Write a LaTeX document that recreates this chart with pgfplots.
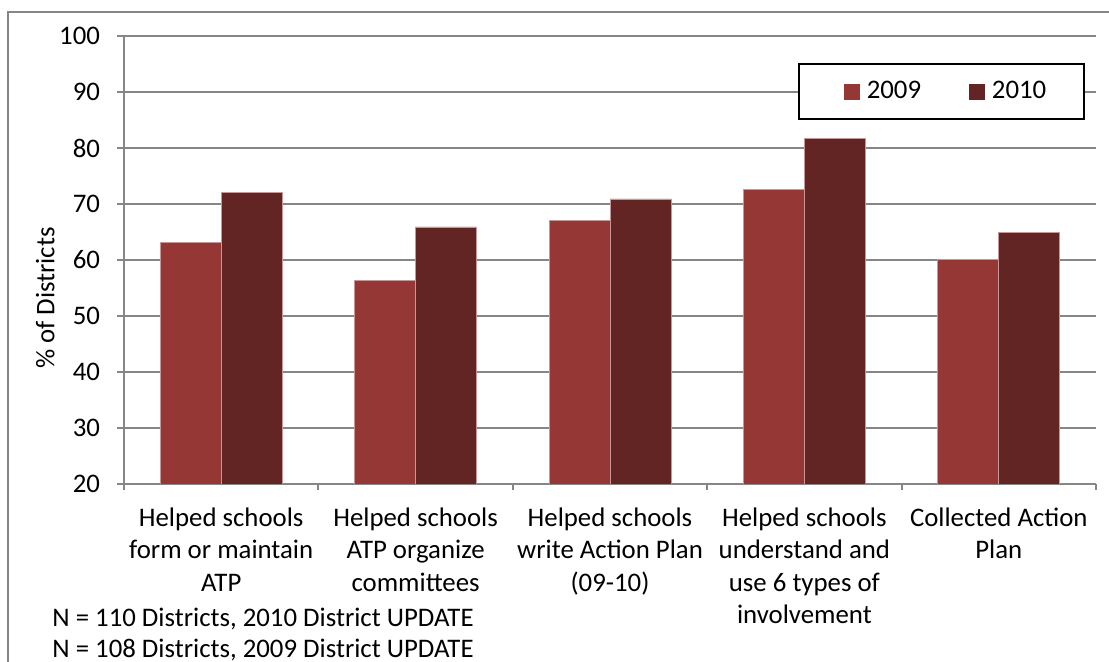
\documentclass[border=0pt]{standalone}
\usepackage{fontspec}
\setmainfont{Carlito}
\usepackage{pgfplots}
\pgfplotsset{compat=1.18}
\definecolor{c2009}{HTML}{953735}
\definecolor{c2010}{HTML}{632523}
\definecolor{gridgray}{HTML}{868686}
\definecolor{edgec}{HTML}{C89696}
\newcommand{\chartfont}{\fontsize{13.4pt}{16.25pt}\selectfont}
\begin{document}
\begin{tikzpicture}[x=0.5pt,y=0.5pt,font=\chartfont]
\useasboundingbox (0,0) rectangle (1109,662);
\draw[gridgray, line width=0.75pt] (8,-40) -- (8,650) -- (1160,650);
\begin{axis}[
  at={(62pt,89pt)}, anchor=south west,
  width=486pt, height=224pt, scale only axis,
  xmin=-0.5, xmax=4.5, ymin=20, ymax=100,
  ybar=0pt, bar width=0.3138,
  xtick={0,1,2,3,4},
  xticklabels={{Helped schools\\form or maintain\\ATP},{Helped schools\\ATP organize\\committees},{Helped schools\\write Action Plan\\(09-10)},{Helped schools\\understand and\\use 6 types of\\involvement},{Collected Action\\Plan}},
  xticklabel style={align=center, font=\chartfont, yshift=-4.7pt},
  minor xtick={-0.5,0.5,1.5,2.5,3.5,4.5},
  major x tick style={draw=none},
  ytick={20,30,...,100},
  yticklabel style={font=\chartfont, xshift=-5pt},
  /pgf/number format/assume math mode=true,
  ymajorgrids, grid style={gridgray, line width=1pt},
  axis x line*=bottom, axis y line*=left,
  axis line style={gridgray, line width=1pt, -},
  tick style={gridgray, line width=1pt},
  tick align=outside,
  major tick length=3.5pt, minor tick length=3pt,
  ylabel={\% of Districts},
  ylabel style={at={(axis description cs:-0.081,0.415)}, anchor=center, font=\chartfont},
  legend columns=2,
  legend style={at={(axis description cs:0.6934,0.9397)}, anchor=north west,
    draw=black, line width=1pt, fill=white,
    inner xsep=19pt, inner ysep=8.7pt,
    nodes={inner sep=0pt, anchor=west},
    font=\chartfont,
    /tikz/every odd column/.append style={column sep=3.5pt},
    /tikz/every even column/.append style={column sep=24pt}},
]
\addplot[fill=c2009, draw=edgec, line width=0.4pt,
  legend image code/.code={\path (-3.5pt,0pt); \fill[c2009] (0pt,-3.75pt) rectangle (7.5pt,3.75pt);}]
  coordinates {(0,63.1) (1,56.3) (2,67.1) (3,72.6) (4,60.1)};
\addplot[fill=c2010, draw=edgec, line width=0.4pt,
  legend image code/.code={\fill[c2010] (0pt,-3.75pt) rectangle (7.5pt,3.75pt);}]
  coordinates {(0,72.1) (1,65.9) (2,70.9) (3,81.7) (4,64.9)};
\legend{2009,2010}
\end{axis}
\node[anchor=base west, inner sep=0pt] at (52,35) {N = 110 Districts, 2010 District UPDATE};
\node[anchor=base west, inner sep=0pt] at (52,4) {N = 108 Districts, 2009 District UPDATE};
\end{tikzpicture}
\end{document}
